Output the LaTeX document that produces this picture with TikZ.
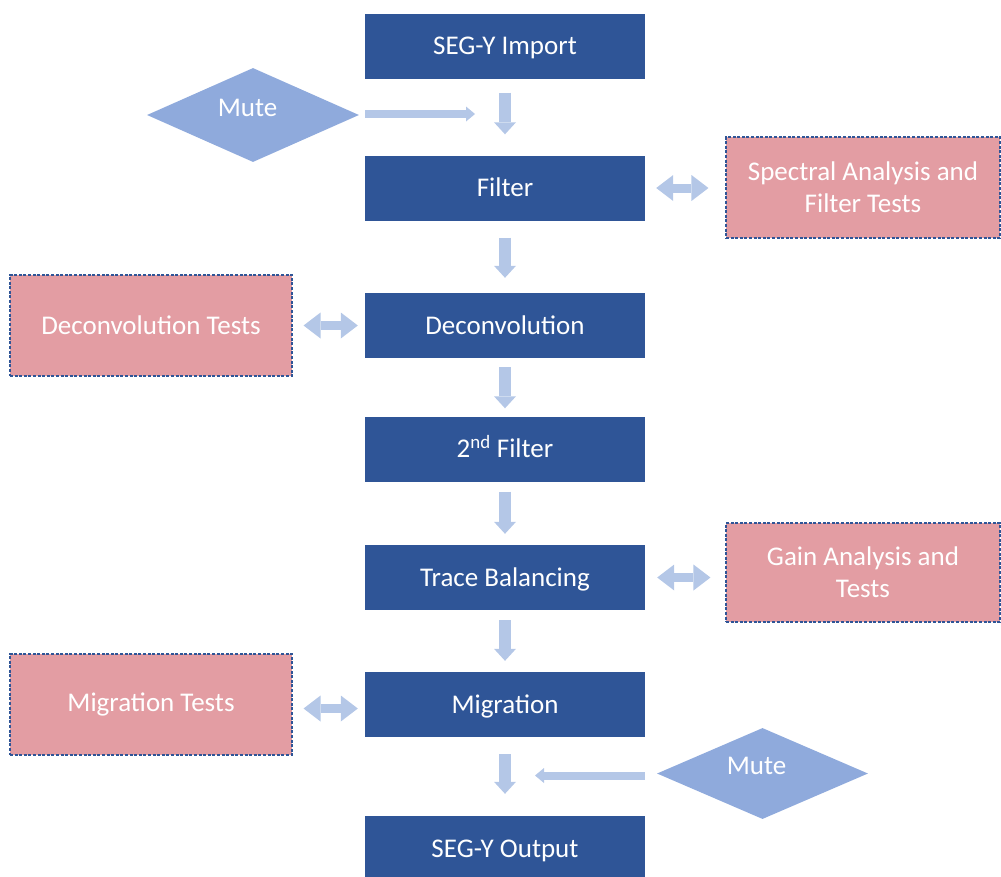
\documentclass[tikz,border=0pt]{standalone}
\usepackage{fontspec}
\setmainfont{Carlito}
\usetikzlibrary{shapes.geometric,arrows.meta,calc}
\definecolor{dblue}{HTML}{2F5597}
\definecolor{lblue}{HTML}{B4C7E7}
\definecolor{dmdc}{HTML}{8FAADC}
\definecolor{pinkc}{HTML}{E39DA3}
\begin{document}
\begin{tikzpicture}[x=1pt,y=-1pt,
  txt/.style={text=white, font=\fontsize{27}{32}\selectfont},
  mainbox/.style={txt, fill=dblue, minimum width=280pt, minimum height=65pt, inner sep=0pt, text height=17.4pt, text depth=0pt},
  testbox/.style={txt, fill=pinkc, draw=dblue, line width=1.1pt, dash pattern=on 3pt off 1.6pt, inner sep=0pt, align=center},
  diam/.style={diamond, fill=dmdc, inner sep=0pt},
  mutetxt/.style={txt, inner sep=0pt, text height=17.4pt, text depth=0pt},
  downarr/.style={draw=lblue, line width=12pt, -{Triangle[width=22pt,length=12pt,line width=0pt]}},
  dblarr/.style={draw=lblue, line width=9pt, {Triangle[width=26pt,length=17pt,line width=0pt]}-{Triangle[width=26pt,length=17pt,line width=0pt]}},
  thinarr/.style={draw=lblue, line width=8pt, -{Triangle[width=15pt,length=9pt,line width=0pt]}}
]
\useasboundingbox (0,0) rectangle (1001,876);
% main column
\node[mainbox] (imp)  at (505,46)    {SEG-Y Import};
\node[mainbox] (filt) at (505,188)   {Filter};
\node[mainbox] (dec)  at (505,325.5) {Deconvolution};
\node[mainbox] (f2)   at (505,449)   {2\textsuperscript{nd} Filter};
\node[mainbox] (tb)   at (505,577.5) {Trace Balancing};
\node[mainbox] (mig)  at (505,704.5) {Migration};
\node[mainbox] (out)  at (505,848.5) {SEG-Y Output};
% test boxes
\node[testbox, minimum width=274pt, minimum height=101pt] (spec) at (863,187.5) {Spectral Analysis and\\Filter Tests};
\node[testbox, minimum width=282pt, minimum height=101pt] (dect) at (151,325.5) {Deconvolution Tests};
\node[testbox, minimum width=274pt, minimum height=99pt]  (gain) at (863,572.5) {Gain Analysis and\\Tests};
\node[testbox, minimum width=282pt, minimum height=101pt] (migt) at (151,704.5) {Migration Tests};
% diamonds
\node[diam, minimum width=212pt, minimum height=94pt] (mute1) at (253,115) {};
\node[mutetxt] (mute1t) at ($(mute1.center)+(-5.5,-7)$) {Mute};
\node[diam, minimum width=211pt, minimum height=91pt] (mute2) at (762.5,773.5) {};
\node[mutetxt] (mute2t) at ($(mute2.center)+(-6,-8)$) {Mute};
% down arrows
\draw[downarr, shorten <=14pt, shorten >=21pt] (imp.south) -- (filt.north);
\draw[downarr, shorten <=17pt, shorten >=15pt] (filt.south) -- (dec.north);
\draw[downarr, shorten <=9pt, shorten >=8pt] (dec.south) -- (f2.north);
\draw[downarr, shorten <=10pt, shorten >=11pt] (f2.south) -- (tb.north);
\draw[downarr, shorten <=10pt, shorten >=11pt] (tb.south) -- (mig.north);
\draw[downarr, shorten <=17pt, shorten >=22pt] (mig.south) -- (out.north);
% double arrows
\draw[dblarr, shorten <=11pt, shorten >=17pt] (filt.east) -- (filt.east -| spec.west);
\draw[dblarr, shorten <=11pt, shorten >=7pt] (dect.east) -- (dect.east -| dec.west);
\draw[dblarr, shorten <=12pt, shorten >=15pt] (tb.east) -- (tb.east -| gain.west);
\draw[dblarr, shorten <=11pt, shorten >=7pt] ([yshift=-4pt]migt.east) -- ([yshift=-4pt]migt.east -| mig.west);
% mute arrows
\coordinate (j1) at (475,114);
\coordinate (j2) at (535,775.5);
\draw[thinarr, shorten <=6pt] (mute1.east |- j1) -- (j1);
\draw[thinarr, shorten <=12pt] (mute2.west |- j2) -- (j2);
\end{tikzpicture}
\end{document}
